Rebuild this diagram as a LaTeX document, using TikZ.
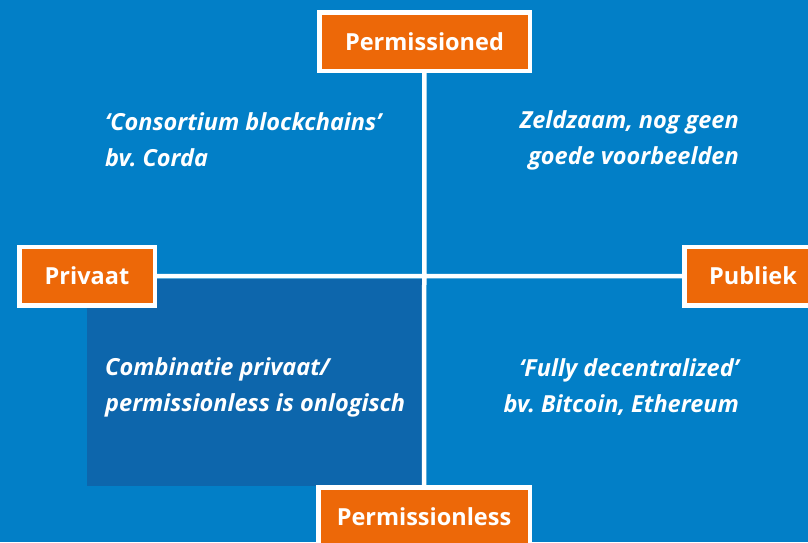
\documentclass[tikz,border=0pt]{standalone}
\usepackage{fontspec}
\setmainfont{Open Sans}
\usepackage{tikz}
\usetikzlibrary{backgrounds}

\definecolor{bgblue}{RGB}{2,127,199}
\definecolor{darkblue}{RGB}{13,102,172}
\definecolor{labelorange}{RGB}{237,104,8}

\begin{document}
\frenchspacing
\begin{tikzpicture}[x=1pt,y=-1pt,
  axis/.style={draw=white,line width=4.5pt},
  label/.style={fill=labelorange,draw=white,line width=4.5pt,text=white,
    font=\fontsize{23.5}{28}\selectfont\bfseries,minimum height=58.5pt,inner sep=0pt},
  quad/.style={text=white,inner sep=0pt,
    font=\fontsize{23.5}{36}\selectfont\bfseries\itshape}]
  \useasboundingbox (0,0) rectangle (808,542);
  \clip (0,0) rectangle (808,542);

  \node[label,minimum width=210.5pt] (top)    at (424.5,41.5)  {Permissioned};
  \node[label,minimum width=211.5pt] (bottom) at (424,516.5)   {Permissionless};
  \node[label,minimum width=135.5pt] (left)   at (87,276)      {Privaat};
  \node[label,minimum width=137.5pt] (right)  at (753,276)     {Publiek};

  \node[quad,anchor=west,align=left]  (consortium) at (105,140) {‘Consortium blockchains’\\bv. Corda};
  \node[quad,anchor=east,align=right] (rare)       at (739,140) {Zeldzaam, nog geen\\goede voorbeelden};
  \node[quad,anchor=west,align=left]  (combo)      at (105,387) {Combinatie privaat/\\permissionless is onlogisch};
  \node[quad,anchor=east,align=right] (public)     at (739,387) {‘Fully decentralized’\\bv. Bitcoin, Ethereum};

  \begin{scope}[on background layer]
    \fill[bgblue] (0,0) rectangle (808,542);
    \fill[darkblue] (87,279) rectangle (425,486);
    \path[axis] (top) -- (bottom)
                (left) -- (right);
  \end{scope}
\end{tikzpicture}
\end{document}
